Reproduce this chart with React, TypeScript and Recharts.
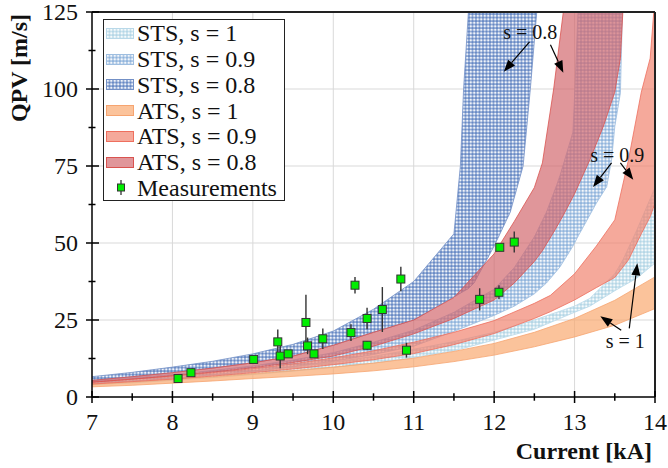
import {
  Area,
  CartesianGrid,
  ComposedChart,
  ErrorBar,
  ReferenceDot,
  ReferenceLine,
  Scatter,
  XAxis,
  YAxis,
} from "recharts";

const FONT = '"Liberation Serif", "Times New Roman", serif';

const X_TICKS = [7, 7.5, 8, 8.5, 9, 9.5, 10, 10.5, 11, 11.5, 12, 12.5, 13, 13.5, 14];
const Y_TICKS = [0, 12.5, 25, 37.5, 50, 62.5, 75, 87.5, 100, 112.5, 125];
const X_GRID = [8, 9, 10, 11, 12, 13];
const Y_GRID = [25, 50, 75, 100];

// STS, s = 1
const STS1_X = [7, 7.5, 8, 8.5, 9, 9.5, 10, 10.5, 11, 11.5, 12, 12.5, 13, 13.19, 13.5, 13.6, 13.77, 14];
const STS1_LO = [4.0, 4.6, 5.4, 6.3, 7.3, 8.4, 9.6, 11.0, 12.8, 15.0, 18.5, 22.0, 27.5, 29.5, 34.5, 36, 38.5, 43.5];
const STS1_HI = [4.6, 5.4, 6.2, 7.2, 8.4, 9.8, 11.3, 13.2, 15.5, 18.0, 21.0, 25.0, 29.5, 32, 40, 44.5, 54, 68];

// STS, s = 0.9
const STS09_X = [7, 7.5, 8, 8.5, 9, 9.5, 10, 10.5, 11, 11.5, 12, 12.25, 12.5, 12.65, 12.78, 12.82, 12.98, 13.02, 13.05, 13.11, 13.27, 13.4, 13.46, 13.5, 13.57, 13.6, 13.65];
const STS09_LO = [4.4, 5.2, 6.1, 7.2, 8.4, 9.9, 11.6, 13.8, 16.5, 21.3, 26.5, 29.5, 33.5, 37, 41, 42.3, 49, 51, 52.5, 55.3, 62.9, 68.3, 77, 87.8, 98.7, 130, 160];
const STS09_HI = [5.2, 6.2, 7.3, 8.6, 10.1, 12.0, 14.4, 17.8, 21.7, 27.5, 35, 42, 52, 60, 69, 72, 86, 110, 130, 160, 200, 230, 245, 255, 270, 280, 290];

// STS, s = 0.8
const STS08_X = [7, 7.5, 8, 8.5, 9, 9.5, 10, 10.5, 11, 11.5, 11.58, 11.62, 11.68, 11.75, 12, 12.2, 12.36, 12.45, 12.53, 12.6];
const STS08_LO = [5.4, 6.6, 7.9, 9.4, 11.1, 13.3, 16.8, 21.0, 25.0, 32.5, 33.7, 34.3, 35.2, 37, 49, 60, 75, 100, 125, 145];
const STS08_HI = [6.6, 8.0, 9.7, 11.6, 14.0, 17.1, 21.4, 28.5, 37.5, 53, 75, 100, 125, 155, 260, 340, 400, 440, 480, 510];

// ATS, s = 1
const ATS1_X = [7, 7.5, 8, 8.5, 9, 9.5, 10, 10.5, 11, 11.5, 12, 12.5, 13, 13.5, 14];
const ATS1_LO = [3.3, 3.8, 4.5, 5.2, 6.0, 6.7, 7.5, 8.5, 9.8, 11.5, 13.6, 16.3, 19.5, 23.3, 28.7];
const ATS1_HI = [4.2, 4.9, 5.7, 6.6, 7.6, 8.6, 9.7, 11.0, 12.6, 14.8, 17.4, 21.0, 25.5, 31.4, 39.0];

// ATS, s = 0.9
const ATS09_X = [7, 7.5, 8, 8.5, 9, 9.5, 10, 10.5, 11, 11.5, 12, 12.5, 12.7, 13, 13.27, 13.5, 13.67, 13.83, 13.94, 14];
const ATS09_LO = [4.2, 5.0, 5.8, 6.8, 7.9, 9.1, 10.5, 12.1, 14.1, 17.0, 20.6, 25.5, 27.7, 31.5, 35.5, 38.8, 44.5, 53, 58.5, 62.9];
const ATS09_HI = [4.9, 5.8, 6.8, 7.9, 9.2, 10.8, 12.7, 15.0, 17.8, 21.0, 24.8, 30.4, 33, 40, 49, 57.5, 77, 99, 110, 130];

// ATS, s = 0.8
const ATS08_X = [7, 7.5, 8, 8.5, 9, 9.5, 10, 10.5, 11, 11.5, 12, 12.25, 12.5, 12.6, 12.74, 12.86, 13.0, 13.19, 13.36, 13.5, 13.57, 13.6, 13.7];
const ATS08_LO = [4.8, 5.8, 6.9, 8.1, 9.5, 11.2, 13.3, 16.5, 20.5, 25.5, 31.5, 37, 44, 47.5, 53.5, 59, 66, 77, 88, 99, 110, 125, 150];
const ATS08_HI = [5.4, 6.6, 7.9, 9.4, 11.1, 13.3, 16.8, 21.0, 25.0, 32.3, 46.5, 57, 68, 76, 100, 125, 155, 190, 220, 250, 265, 275, 300];

// measurements
const MEAS_X = [8.07, 8.23, 9.01, 9.31, 9.34, 9.44, 9.66, 9.68, 9.76, 9.87, 10.22, 10.27, 10.42, 10.42, 10.61, 10.84, 10.91, 11.82, 12.06, 12.07, 12.25];
const MEAS_Y = [6.0, 7.9, 12.2, 17.9, 13.3, 14.0, 24.2, 16.6, 14.0, 18.9, 20.9, 36.3, 25.5, 16.8, 28.4, 38.3, 15.2, 31.7, 34.0, 48.6, 50.3];
const MEAS_ERR = [1.0, 0.8, 0.5, 4.0, 4.0, 0.8, 9.0, 2.7, 0.8, 3.3, 2.7, 2.7, 3.5, 1.4, 7.3, 4.0, 2.4, 3.6, 2.3, 0.5, 3.4];

// annotations (data coordinates)
const NOTE_TEXT = ["s = 0.8", "s = 0.9", "s = 1"];
const NOTE_X = [12.45, 13.53, 13.63];
const NOTE_Y = [118.6, 78.6, 18.1];
const ARROW_X0 = [12.44, 12.7, 13.46, 13.57, 13.58, 13.68];
const ARROW_Y0 = [115.3, 114.4, 76.0, 76.0, 21.7, 22.3];
const ARROW_X1 = [12.12, 12.86, 13.23, 13.73, 13.32, 13.78];
const ARROW_Y1 = [105.6, 105.3, 68.2, 70.5, 26.2, 43.4];

const band = (xs: number[], lo: number[], hi: number[]) =>
  xs.map((x, i) => ({ x, range: [lo[i], hi[i]] }));

const STS = [
  { id: "sts1", label: "STS, s = 1", color: "#b2d5e5", edge: "#b8d8e8", data: band(STS1_X, STS1_LO, STS1_HI) },
  { id: "sts09", label: "STS, s = 0.9", color: "#8db2db", edge: "#9ebee0", data: band(STS09_X, STS09_LO, STS09_HI) },
  { id: "sts08", label: "STS, s = 0.8", color: "#6386c3", edge: "#7390c6", data: band(STS08_X, STS08_LO, STS08_HI) },
];
const ATS = [
  { id: "ats1", label: "ATS, s = 1", color: "#f9a66c", edge: "#f6a470", data: band(ATS1_X, ATS1_LO, ATS1_HI) },
  { id: "ats09", label: "ATS, s = 0.9", color: "#f0806c", edge: "#ee6f5e", data: band(ATS09_X, ATS09_LO, ATS09_HI) },
  { id: "ats08", label: "ATS, s = 0.8", color: "#d2646a", edge: "#d9534f", data: band(ATS08_X, ATS08_LO, ATS08_HI) },
];

const MEAS = MEAS_X.map((x, i) => ({ x, y: MEAS_Y[i], err: MEAS_ERR[i] }));

function Patterns({ p }: { p: string }) {
  return (
    <defs>
      {STS.map((s) => (
        <pattern key={s.id} id={`${p}-${s.id}`} width={3.5} height={3.5} patternUnits="userSpaceOnUse">
          <rect width={3.5} height={3.5} fill={s.color} />
          <circle cx={1.75} cy={1.75} r={1.35} fill="#fff" fillOpacity={0.9} />
        </pattern>
      ))}
    </defs>
  );
}

function XTick({ x, y, payload }: any) {
  const v = payload.value;
  const major = Number.isInteger(v);
  const h = major ? 6 : 3.7;
  return (
    <g>
      <line x1={x} x2={x} y1={y - h} y2={y + h} stroke="#000" strokeWidth={1.5} />
      {major && (
        <text x={x} y={y + 33} textAnchor="middle" fontFamily={FONT} fontSize={24} fill="#111">
          {v}
        </text>
      )}
    </g>
  );
}

function YTick({ x, y, payload }: any) {
  const v = payload.value;
  const major = v % 25 === 0;
  return (
    <g>
      {major ? (
        <line x1={x - 6} x2={x + 7} y1={y} y2={y} stroke="#000" strokeWidth={1.5} />
      ) : (
        <line x1={x - 3.5} x2={x + 3.5} y1={y} y2={y} stroke="#000" strokeWidth={1.5} />
      )}
      {major && (
        <text x={x - 14} y={y + 8} textAnchor="end" fontFamily={FONT} fontSize={24} fill="#111">
          {v}
        </text>
      )}
    </g>
  );
}

const arrowShape = (props: any) => {
  const { x1, y1, x2, y2 } = props;
  const dx = x2 - x1;
  const dy = y2 - y1;
  const len = Math.hypot(dx, dy) || 1;
  const ux = dx / len;
  const uy = dy / len;
  const L = 12;
  const W = 4.5;
  const bx = x2 - ux * L;
  const by = y2 - uy * L;
  return (
    <g>
      <line x1={x1} y1={y1} x2={bx} y2={by} stroke="#000" strokeWidth={1.2} />
      <polygon
        points={`${x2},${y2} ${bx - uy * W},${by + ux * W} ${bx + uy * W},${by - ux * W}`}
        fill="#000"
      />
    </g>
  );
};

function Legend() {
  const rows = [...STS, ...ATS];
  const rowY = (i: number) => 33.3 + i * 25.8 - 20;
  return (
    <div
      style={{
        position: "absolute",
        left: 103,
        top: 19,
        width: 180,
        height: 180,
        border: "1px solid #222",
        background: "#fff",
        fontFamily: FONT,
        fontSize: 24,
        color: "#111",
      }}
    >
      <svg width={0} height={0} style={{ position: "absolute" }}>
        <Patterns p="l" />
      </svg>
      {rows.map((r, i) => {
        const isSts = r.id.startsWith("sts");
        return (
          <div key={r.id}>
            <svg
              width={28}
              height={11}
              style={{ position: "absolute", left: 2, top: rowY(i) - 5.5 }}
            >
              {isSts ? (
                <rect x={0.5} y={0.5} width={27} height={10} fill={`url(#l-${r.id})`} stroke={r.edge} />
              ) : (
                <rect x={0.5} y={0.5} width={27} height={10} fill={r.color} fillOpacity={0.68} stroke={r.edge} />
              )}
            </svg>
            <div
              style={{
                position: "absolute",
                left: 33,
                top: rowY(i) - 14.2,
                lineHeight: "28px",
                whiteSpace: "nowrap",
              }}
            >
              {r.label}
            </div>
          </div>
        );
      })}
      <svg width={28} height={20} style={{ position: "absolute", left: 2, top: rowY(6) - 10 }}>
        <line x1={15} x2={15} y1={2} y2={17} stroke="#333" strokeWidth={1.3} />
        <rect x={11.5} y={6} width={7} height={7} fill="#00ee00" stroke="#333" strokeWidth={1} />
      </svg>
      <div
        style={{
          position: "absolute",
          left: 33,
          top: rowY(6) - 14.2,
          lineHeight: "28px",
          whiteSpace: "nowrap",
        }}
      >
        Measurements
      </div>
    </div>
  );
}

export default function App() {
  return (
    <div style={{ position: "absolute", left: 0, top: 0, width: 668, height: 468, background: "#fff" }}>
      <ComposedChart width={668} height={468} margin={{ top: 12, right: 13, bottom: 0, left: 0 }}>
        <Patterns p="c" />
        <CartesianGrid stroke="#d9d9d9" verticalValues={X_GRID} horizontalValues={Y_GRID} />
        <XAxis
          type="number"
          dataKey="x"
          domain={[7, 14]}
          ticks={X_TICKS}
          interval={0}
          allowDataOverflow
          height={71}
          tick={<XTick />}
          tickLine={false}
          tickSize={0}
          tickMargin={0}
          axisLine={{ stroke: "#000", strokeWidth: 1.5 }}
          label={{
            content: () => (
              <text x={652} y={459} textAnchor="end" fontFamily={FONT} fontSize={24} fontWeight="bold" fill="#111">
                Current [kA]
              </text>
            ),
          }}
        />
        <YAxis
          type="number"
          domain={[0, 125]}
          ticks={Y_TICKS}
          interval={0}
          allowDataOverflow
          width={92}
          tick={<YTick />}
          tickLine={false}
          tickSize={0}
          tickMargin={0}
          axisLine={{ stroke: "#000", strokeWidth: 1.5 }}
          label={{
            content: () => (
              <text
                transform="translate(27,68) rotate(-90)"
                textAnchor="middle"
                fontFamily={FONT}
                fontSize={24}
                fontWeight="bold"
                fill="#111"
              >
                QPV [m/s]
              </text>
            ),
          }}
        />
        {STS.map((s) => (
          <Area
            key={s.id}
            data={s.data}
            dataKey="range"
            type="linear"
            fill={`url(#c-${s.id})`}
            fillOpacity={1}
            stroke={s.edge}
            strokeWidth={0.8}
            activeDot={false}
            isAnimationActive={false}
          />
        ))}
        {ATS.map((s) => (
          <Area
            key={s.id}
            data={s.data}
            dataKey="range"
            type="linear"
            fill={s.color}
            fillOpacity={0.68}
            stroke={s.edge}
            strokeWidth={0.8}
            activeDot={false}
            isAnimationActive={false}
          />
        ))}
        <ReferenceLine y={125} stroke="#222" strokeWidth={2} />
        <ReferenceLine x={14} stroke="#222" strokeWidth={2} />
        {ARROW_X0.map((x0, i) => (
          <ReferenceLine
            key={`arrow-${i}`}
            segment={[
              { x: x0, y: ARROW_Y0[i] },
              { x: ARROW_X1[i], y: ARROW_Y1[i] },
            ]}
            shape={arrowShape}
          />
        ))}
        {NOTE_TEXT.map((t, i) => (
          <ReferenceDot
            key={t}
            x={NOTE_X[i]}
            y={NOTE_Y[i]}
            r={0}
            stroke="none"
            fill="none"
            label={{ value: t, position: "center", fontFamily: FONT, fontSize: 20, fill: "#111" }}
          />
        ))}
        <Scatter
          data={MEAS}
          dataKey="y"
          isAnimationActive={false}
          shape={(p: any) => (
            <rect x={p.cx - 4} y={p.cy - 4} width={8} height={8} fill="#00ee00" stroke="#333" strokeWidth={1} />
          )}
        >
          <ErrorBar dataKey="err" direction="y" width={0} stroke="#333" strokeWidth={1.4} />
        </Scatter>
      </ComposedChart>
      <Legend />
    </div>
  );
}
